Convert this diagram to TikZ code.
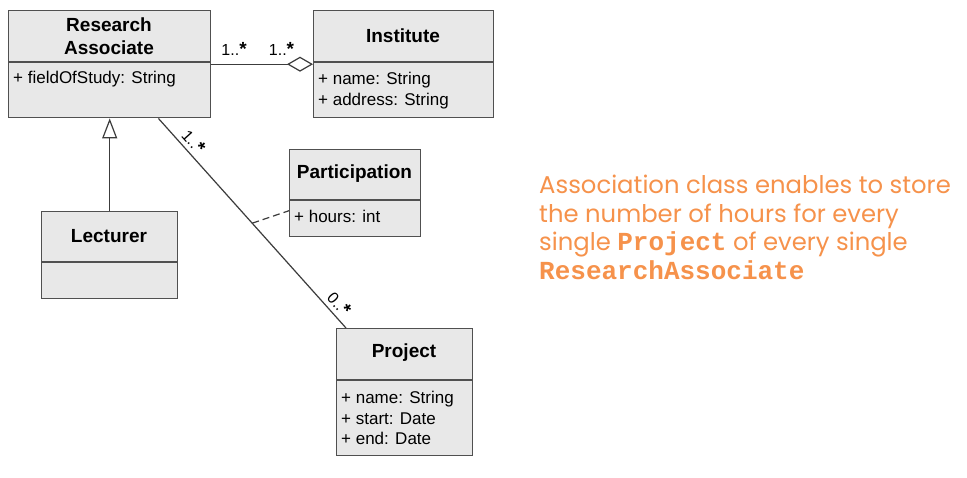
\documentclass[tikz,border=0pt]{standalone}
\usepackage{fontspec}
\setmainfont{Liberation Sans}
\newfontfamily\notefont{Poppins}
\newfontfamily\notemono{Liberation Mono}
\usetikzlibrary{arrows.meta}
\definecolor{boxfill}{RGB}{232,232,232}
\definecolor{boxline}{RGB}{80,80,80}
\definecolor{connline}{RGB}{60,60,60}
\definecolor{noteorange}{RGB}{246,146,75}
\newcommand{\mstar}{{\bfseries\fontsize{19}{19}\selectfont *}}
\newcommand{\monoword}[1]{{\notemono\bfseries\fontsize{26}{28.5}\selectfont #1}}
\begin{document}
\begin{tikzpicture}[x=1pt,y=-1pt,
  umlbox/.style={draw=boxline, fill=boxfill, line width=1.4pt, inner sep=0pt, anchor=north west},
  divider/.style={draw=boxline, line width=1.2pt},
  umltitle/.style={font=\fontsize{19}{23}\selectfont\bfseries, align=center, inner sep=0pt},
  umlattr/.style={font=\fontsize{17}{20.5}\selectfont, align=left, inner sep=0pt, anchor=north west},
  conn/.style={draw=connline, line width=1.2pt},
  mult/.style={font=\fontsize{16}{18}\selectfont, inner sep=1pt},
  note/.style={font=\notefont\fontsize{24.3}{28.5}\selectfont, text=noteorange, align=left, inner sep=0pt, anchor=north west}]
\useasboundingbox[fill=white] (0,0) rectangle (967,477);

% Research Associate
\node[umlbox, minimum width=202pt, minimum height=107pt] (ra) at (8,10) {};
\draw[divider] (ra.west |- 0,62) -- (ra.east |- 0,62);
\node[umltitle] (ratitle) at (109,36) {Research\\Associate};
\node[umlattr] (raattr) at (13,71) {+ fieldOfStudy: String};

% Institute
\node[umlbox, minimum width=180pt, minimum height=107pt] (inst) at (313,10) {};
\draw[divider] (inst.west |- 0,62) -- (inst.east |- 0,62);
\node[umltitle] (insttitle) at (403,35.5) {Institute};
\node[umlattr] (instattr) at (318,72) {+ name: String\\+ address: String};

% Participation
\node[umlbox, minimum width=131pt, minimum height=87pt] (part) at (289,149) {};
\draw[divider] (part.west |- 0,200) -- (part.east |- 0,200);
\node[umltitle] (parttitle) at (354.5,174) {Participation};
\node[umlattr] (partattr) at (294,210) {+ hours: int};

% Lecturer
\node[umlbox, minimum width=136pt, minimum height=87pt] (lec) at (41,211) {};
\draw[divider] (lec.west |- 0,262) -- (lec.east |- 0,262);
\node[umltitle] (lectitle) at (109,236.5) {Lecturer};

% Project
\node[umlbox, minimum width=136pt, minimum height=127pt] (proj) at (336,328) {};
\draw[divider] (proj.west |- 0,380) -- (proj.east |- 0,380);
\node[umltitle] (projtitle) at (404,353) {Project};
\node[umlattr] (projattr) at (341,391) {+ name: String\\+ start: Date\\+ end: Date};

% Generalization
\draw[conn, -{Triangle[open, length=20pt, width=15pt]}] (lec.north) -- (ra.south);

% Aggregation
\draw[conn, {Diamond[open, length=26pt, width=15pt]}-] (inst.west) --
  node[mult, pos=0.31, above=7pt] (m2) {1..\mstar}
  node[mult, pos=0.777, above=7pt] (m1) {1..\mstar}
  (ra.east);

% Association with class
\draw[conn] ([xshift=-53pt]ra.south east) --
  coordinate[pos=0.5] (mid)
  node[mult, sloped, pos=0.145, above=3pt] (m3) {1..\mstar}
  node[mult, sloped, pos=0.92, above=3pt] (m4) {0..\mstar}
  ([xshift=10pt]proj.north west);
\draw[conn, dash pattern=on 7pt off 4pt] (mid) -- ([yshift=-17.5pt]part.west);

% Note
\node[note] (notetext) at (539,175) {Association class enables to store\\the number of hours for every\\single \monoword{Project} of every single\\\monoword{ResearchAssociate}};
\end{tikzpicture}
\end{document}
